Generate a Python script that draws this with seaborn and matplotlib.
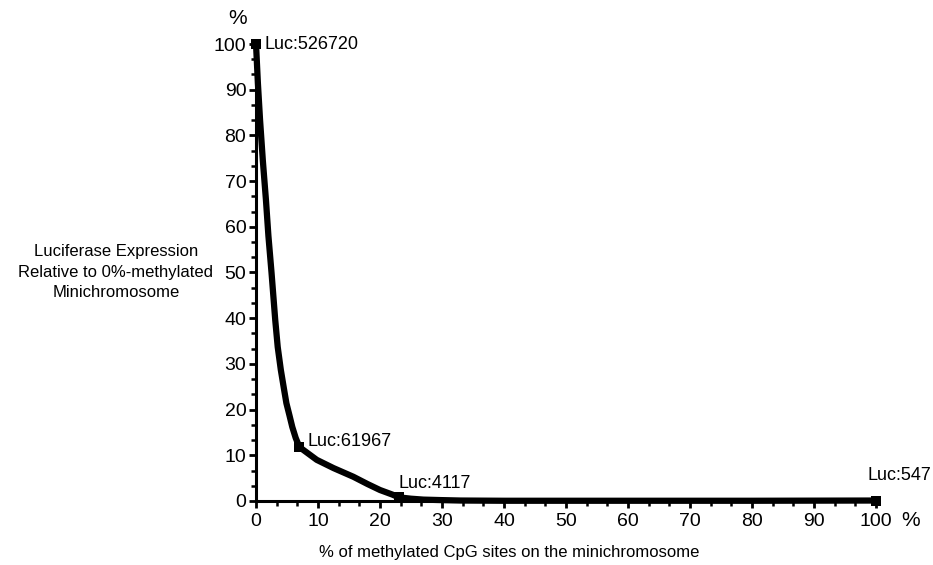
import matplotlib
matplotlib.use("Agg")
import matplotlib.pyplot as plt
import seaborn as sns
import pandas as pd
from matplotlib.ticker import MultipleLocator

# Measured data points (x = % methylated CpG, y = relative expression %)
point_x = [0, 7, 23, 100]
point_y = [100, 11.8, 0.8, 0.1]
point_labels = ["Luc:526720", "Luc:61967", "Luc:4117", "Luc:547"]

# Curve
curve_x = [0, 0.3, 0.65, 1.1, 1.6, 2.0, 2.5, 3.1, 3.5, 4.0, 4.5, 4.9, 5.4, 5.85, 6.4, 7,
           8.5, 9.8, 12.5, 15.7, 18, 20, 22, 23, 25, 27, 29.7, 33, 40, 60, 80, 100]
curve_y = [100, 91.5, 83.4, 74.5, 65.9, 58.0, 50.0, 39.6, 33.7, 28.7, 24.6, 21.4, 18.7, 16.2, 13.8, 11.8,
           10.3, 9.0, 7.2, 5.3, 3.7, 2.4, 1.4, 0.8, 0.5, 0.3, 0.2, 0.1, 0.05, 0.05, 0.05, 0.1]

xticks = [0, 10, 20, 30, 40, 50, 60, 70, 80, 90, 100]
yticks = [0, 10, 20, 30, 40, 50, 60, 70, 80, 90, 100]

sns.set_theme(style="white")
plt.rcParams['font.family'] = ['Liberation Sans', 'DejaVu Sans']

fig = plt.figure(figsize=(9.33, 5.65), dpi=100)
ax = fig.add_axes([0.2744, 0.1133, 0.6645, 0.8088])

curve_df = pd.DataFrame({"x": curve_x, "y": curve_y})
pts_df = pd.DataFrame({"x": point_x, "y": point_y})

sns.lineplot(data=curve_df, x="x", y="y", ax=ax, color="black", linewidth=4.5,
             sort=False, estimator=None, solid_joinstyle="round", solid_capstyle="round",
             clip_on=False, zorder=3)
sns.scatterplot(data=pts_df, x="x", y="y", ax=ax, marker="s", s=55, color="black",
                edgecolor="black", linewidth=0, clip_on=False, zorder=4)

ax.set_xlim(0, 100)
ax.set_ylim(0, 100)
ax.set_xticks(xticks)
ax.set_yticks(yticks)
ax.xaxis.set_minor_locator(MultipleLocator(10 / 3))
ax.yaxis.set_minor_locator(MultipleLocator(10 / 3))

for s in ["top", "right"]:
    ax.spines[s].set_visible(False)
for s in ["left", "bottom"]:
    ax.spines[s].set_linewidth(2.2)
    ax.spines[s].set_color("black")

ax.tick_params(axis="both", which="major", direction="out", length=5, width=2,
               color="black", labelsize=14, labelcolor="black", pad=2, bottom=True, left=True)
ax.tick_params(axis="both", which="minor", direction="out", length=3.5, width=1.8,
               color="black", bottom=True, left=True)
ax.tick_params(axis="x", which="major", pad=4)

ax.set_xlabel("")
ax.set_ylabel("")
ax.grid(False)

# Point annotations
offsets = [(8, 0), (8, 6), (0, 14), (-8, 25)]
for x, y, lab, off in zip(point_x, point_y, point_labels, offsets):
    ax.annotate(lab, (x, y), xytext=off, textcoords="offset pixels",
                ha="left", va="center", fontsize=13, color="black", annotation_clip=False)

# Axis titles and unit marks
fig.text(509 / 933, 1 - 553 / 565, "% of methylated CpG sites on the minichromosome",
         ha="center", va="center", fontsize=12, color="black")
fig.text(116 / 933, 1 - 272 / 565,
         "Luciferase Expression\nRelative to 0%-methylated\nMinichromosome",
         ha="center", va="center", multialignment="center", fontsize=12,
         linespacing=1.45, color="black")
fig.text(238 / 933, 1 - 18 / 565, "%", ha="center", va="center", fontsize=15, color="black")
fig.text(911 / 933, 1 - 521 / 565, "%", ha="center", va="center", fontsize=15, color="black")

fig.savefig("out.png", dpi=100)
